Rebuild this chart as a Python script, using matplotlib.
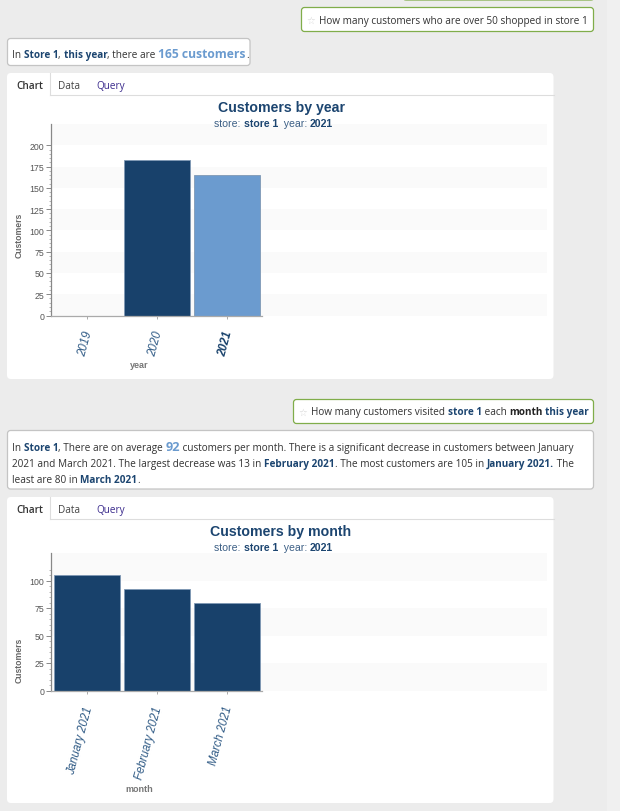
import matplotlib
matplotlib.use("Agg")
import matplotlib.pyplot as plt
from matplotlib.patches import FancyBboxPatch, Rectangle
from matplotlib.ticker import FixedLocator
from matplotlib.transforms import ScaledTranslation

W, H = 620, 812
years = ["2019", "2020", "2021"]
year_customers = [0, 183, 165]
year_colors = ["#6b9bcf", "#18416b", "#6b9bcf"]
months = ["January 2021", "February 2021", "March 2021"]
month_customers = [105, 92, 80]
month_colors = ["#18416b", "#18416b", "#18416b"]

NAVY = "#1c4570"
BLUE = "#6b9bcf"
TXT = "#333333"
GREEN = "#80ad4a"
UI = "Open Sans"
CH = "Liberation Sans"
FS = 7.2

fig = plt.figure(figsize=(W / 100, H / 100), dpi=100, facecolor="#ececec")
bg = fig.add_axes([0, 0, 1, 1], zorder=0)
top = fig.add_axes([0, 0, 1, 1], zorder=5)
for a in (bg, top):
    a.set_xlim(0, W)
    a.set_ylim(H, 0)
    a.axis("off")
fig.canvas.draw()
rend = fig.canvas.get_renderer()


def box(x0, y0, x1, y1, ec, fc="white", lw=0.9, r=3):
    bg.add_patch(FancyBboxPatch((x0, y0), x1 - x0, y1 - y0,
                                boxstyle=f"round,pad=0,rounding_size={r}",
                                fc=fc, ec=ec, lw=lw))


def runs(x, y, parts, fs=FS, family=UI, target=bg):
    """parts: (text, colour, bold[, size])"""
    for p in parts:
        s, c, b = p[:3]
        size = p[3] if len(p) > 3 else fs
        t = target.text(x, y, s, color=c, fontweight="bold" if b else "normal",
                        fontsize=size, family=family, va="baseline", ha="left")
        x += t.get_window_extent(rend).width


def tabs(y):
    bg.plot([49.5, 554], [y + 21.5, y + 21.5], color="#dddddd", lw=0.8)
    bg.plot([49.5, 49.5], [y, y + 22], color="#dddddd", lw=0.8)
    bg.text(16, y + 15, "Chart", fontsize=FS, family=UI, color="#333333", fontweight="semibold")
    bg.text(58, y + 15, "Data", fontsize=FS, family=UI, color="#444444")
    bg.text(96, y + 15, "Query", fontsize=FS, family=UI, color="#3a2a8c")


def chart_axes(px_top, px_bottom, ymax, ymajor_top, yminor_top, xs, ys, colors, labels,
               xlabel, xlabel_y, ylabel_y, title, title_y, bold_last):
    x0, x1 = 51, 547
    ax = fig.add_axes([x0 / W, 1 - px_bottom / H, (x1 - x0) / W, (px_bottom - px_top) / H], zorder=3)
    ax.patch.set_alpha(0)
    ax.set_xlim(-0.514, 6.571)
    for lo in range(0, ymax, 50):
        ax.axhspan(lo, lo + 25, color="#fafafa", lw=0, zorder=0)
    ax.bar(xs, ys, width=0.95, color=colors, edgecolor="#7f98b4", linewidth=0.6, zorder=2)
    for s in ("top", "right"):
        ax.spines[s].set_visible(False)
    ax.spines["left"].set_color("#888888")
    ax.spines["bottom"].set_color("#aaaaaa")
    ax.spines["left"].set_linewidth(0.9)
    ax.spines["bottom"].set_linewidth(0.9)
    ax.spines["bottom"].set_bounds(-0.514, 2.5)
    ax.yaxis.set_major_locator(FixedLocator(list(range(0, ymajor_top + 1, 25))))
    ax.yaxis.set_minor_locator(FixedLocator(list(range(0, yminor_top + 1, 5))))
    ax.set_ylim(0, ymax)
    ax.tick_params(axis="y", which="major", length=3.6, width=0.7, color="#888888",
                   labelsize=6.3, labelcolor="#555555", pad=1.2)
    ax.tick_params(axis="y", which="minor", length=1.6, width=0.6, color="#aaaaaa")
    ax.set_xticks(xs)
    ax.set_xticklabels(labels, rotation=75, ha="right", va="center", rotation_mode="anchor",
                       fontstyle="italic", fontsize=8.3, color="#2f5a85", family=CH)
    ax.tick_params(axis="x", length=2, width=0.7, color="#aaaaaa", pad=9)
    shift = ScaledTranslation(2 / 100, 0, fig.dpi_scale_trans)
    for tl in ax.get_xticklabels():
        tl.set_transform(tl.get_transform() + shift)
    for tl in ax.get_yticklabels():
        tl.set_family(CH)
    if bold_last:
        ax.get_xticklabels()[-1].set_fontweight("bold")
        ax.get_xticklabels()[-1].set_color("#18416b")
    bg.text(19, ylabel_y, "Customers", rotation=90, ha="center", va="center", fontsize=6.2,
            fontweight="bold", family=CH, color="#666666")
    bg.text(139, xlabel_y, xlabel, ha="center", va="center", fontsize=6.5,
            fontweight="bold", family=CH, color="#777777")
    bg.text(281, title_y, title, ha="center", va="center", fontsize=10.2, fontweight="bold",
            family=CH, color=NAVY)
    runs(214.5, title_y + 19, [("store: ", "#3c5f85", False), ("store 1", NAVY, True),
                               ("  year: ", "#3c5f85", False), ("2021", NAVY, True)],
         fs=7.6, family=CH, target=top)
    return ax


# page chrome
bg.add_patch(Rectangle((607, 0), 13, H, fc="#f0f0f0", ec="none"))
box(403, -8, 594, 1, GREEN)

# first conversation turn
box(301.5, 8.5, 593.5, 32.5, GREEN)
bg.text(306, 24, "☆", fontsize=7, family="DejaVu Sans", color="#d5d5d5")
runs(319, 24, [("How many customers who are over 50 shopped in store 1", TXT, False)])
box(7.5, 39.5, 250, 66.5, "#c4c4c4")
runs(12, 58, [("In ", TXT, False), ("Store 1", NAVY, True), (", ", TXT, False), ("this year", NAVY, True),
              (", there are ", TXT, False), ("165 customers", BLUE, True, 8.7), (".", TXT, False)])
box(7, 74, 553.5, 380, "none", r=4)
tabs(74)
chart_axes(125, 316.5, 225, 200, 200, [0, 1, 2], year_customers, year_colors, years,
           "year", 366, 235.5, "Customers by year", 108, True)

# second conversation turn
box(293.5, 400.5, 593.5, 424.5, GREEN)
bg.text(298, 416, "☆", fontsize=7, family="DejaVu Sans", color="#d5d5d5")
runs(311, 415.5, [("How many customers visited ", TXT, False), ("store 1", NAVY, True), (" each ", TXT, False),
                  ("month", "#222222", True), (" ", TXT, False), ("this year", NAVY, True)])
box(7.5, 431.5, 593.5, 490, "#c4c4c4")
runs(12, 451, [("In ", TXT, False), ("Store 1", NAVY, True), (", There are on average ", TXT, False),
               ("92", BLUE, True, 9.2),
               (" customers per month. There is a significant decrease in customers between January", TXT, False)])
runs(12, 467, [("2021 and March 2021. The largest decrease was 13 in ", TXT, False), ("February 2021", NAVY, True),
               (". The most customers are 105 in ", TXT, False), ("January 2021.", NAVY, True), (" The", TXT, False)])
runs(12, 483, [("least are 80 in ", TXT, False), ("March 2021", NAVY, True), (".", TXT, False)])
box(7, 498, 553.5, 804, "none", r=4)
tabs(498)
chart_axes(554, 691.5, 125, 100, 110, [0, 1, 2], month_customers, month_colors, months,
           "month", 790, 660, "Customers by month", 532, False)

fig.savefig("out.png", dpi=100, facecolor=fig.get_facecolor())
